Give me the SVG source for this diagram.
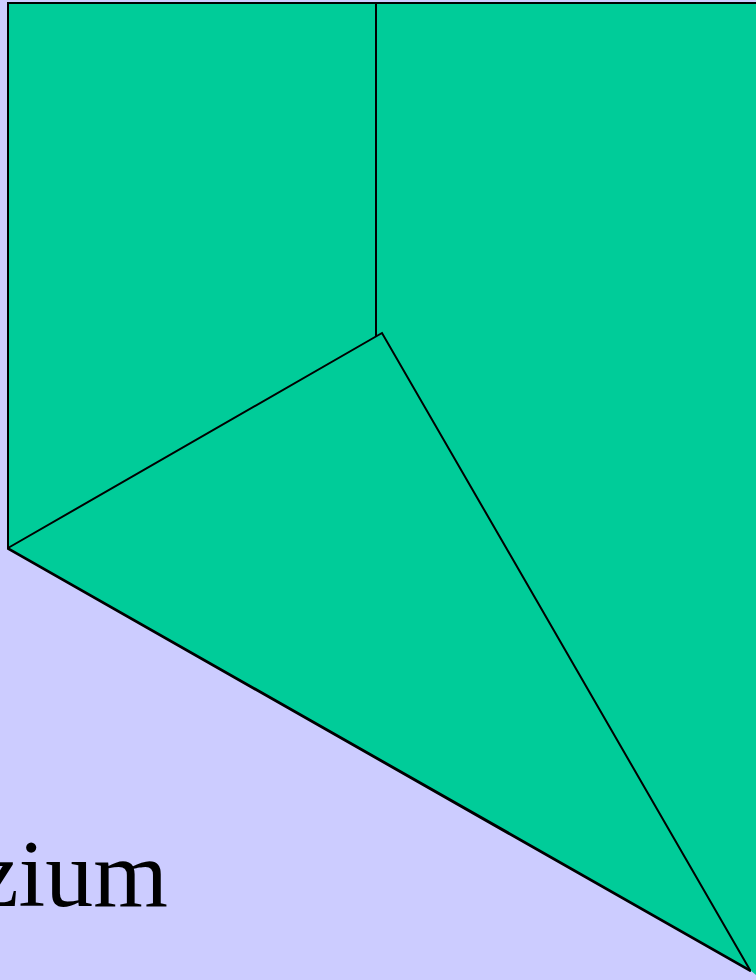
<svg xmlns="http://www.w3.org/2000/svg" width="756" height="980" viewBox="0 0 756 980">
<style>
.face{fill:#00CC99;stroke:none}
.edge{stroke:#000;stroke-width:2;fill:none;stroke-linecap:round}
.lbl{font-family:"Liberation Serif","Times New Roman",serif;font-size:96px;fill:#000}
</style>
<rect x="0" y="0" width="756" height="980" fill="#CCCCFF"/>
<g id="solid">
<polygon class="face" points="8,3 756,3 756,975 750,970 8,548"/>
</g>
<g id="edges">
<polyline class="edge" points="756,3 8,3 8,548 750,970"/>
<line class="edge" x1="376" y1="3" x2="376" y2="336"/>
<polyline class="edge" points="8,548 382,333 750,970"/>
<line class="edge" x1="8" y1="549" x2="750" y2="971" stroke-width="1.5"/>
</g>
<text class="lbl" x="-24" y="906">zium</text>
</svg>
